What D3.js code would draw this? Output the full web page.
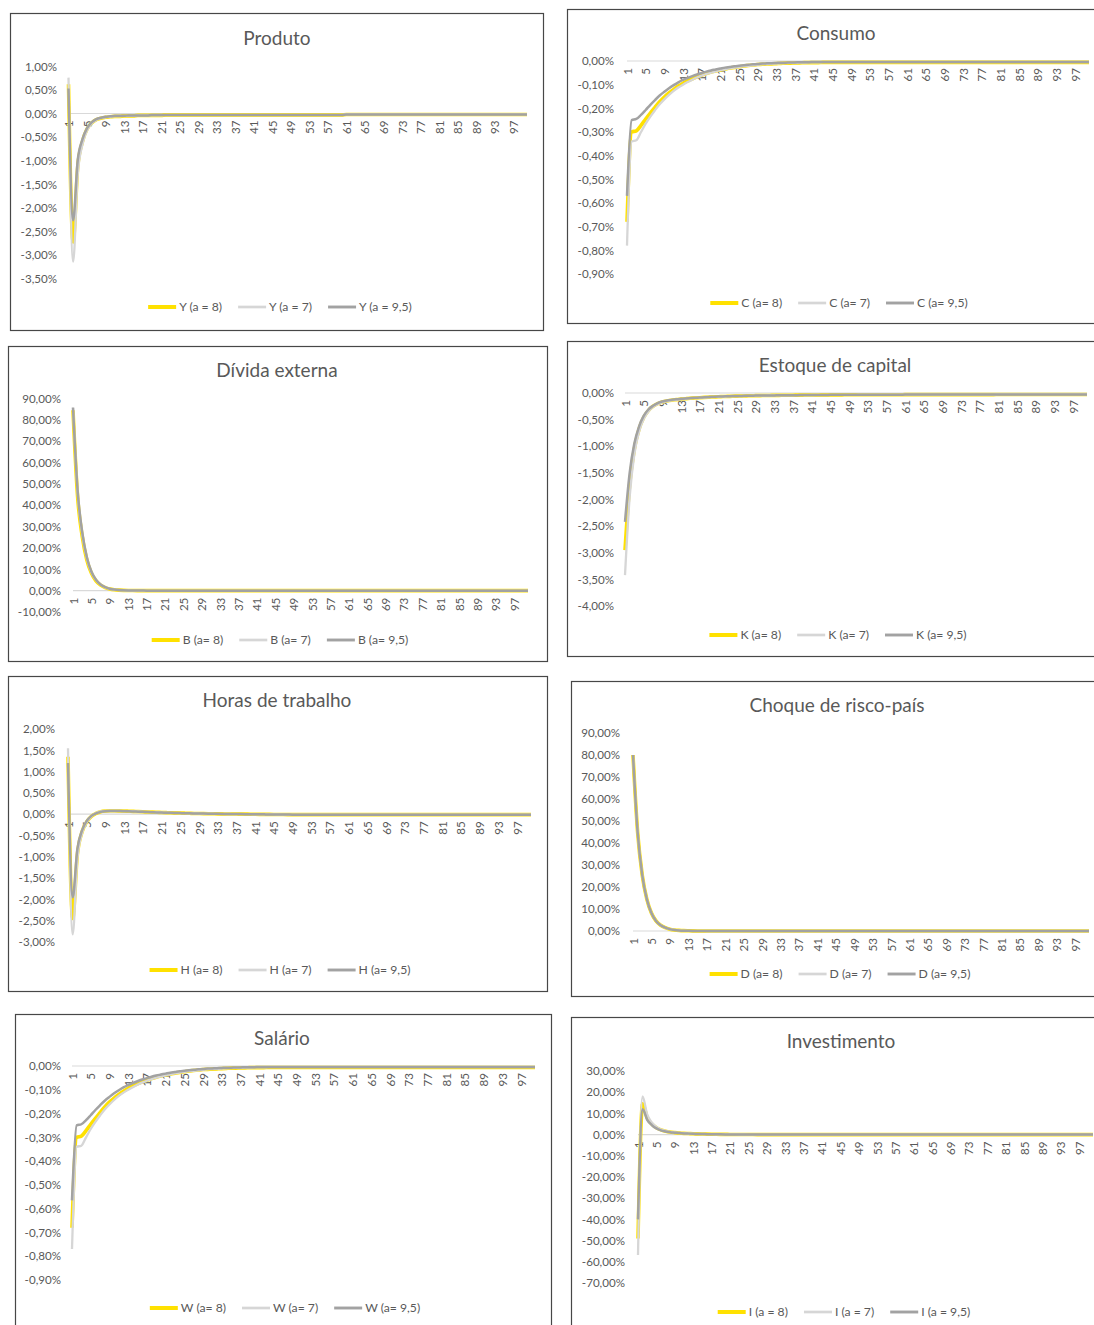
<!DOCTYPE html>
<html>
<head>
<meta charset="utf-8">
<script src="https://cdn.jsdelivr.net/npm/d3@7"></script>
<style>
  html, body { margin: 0; padding: 0; background: #ffffff; }
  svg { display: block; }
  text { font-family: Lato, "Open Sans", "Liberation Sans", sans-serif; }
</style>
</head>
<body>
<svg id="chart" width="1094" height="1325"></svg>
<script>
// Periods after the shock (1..100)
const periods = d3.range(1, 101);

// Calibrations shown in every panel
const calibrations = ["8", "7", "9,5"];

// ---- Produto (Y), % deviation ----
const prodA8 = [
0.62,-2.72,-1.12,-0.60,-0.33,-0.20,-0.13,-0.10,-0.08,-0.07,
-0.06,-0.06,-0.05,-0.05,-0.05,-0.04,-0.04,-0.04,-0.04,-0.04,
-0.04,-0.03,-0.03,-0.03,-0.03,-0.03,-0.03,-0.03,-0.03,-0.03,
-0.03,-0.03,-0.03,-0.03,-0.03,-0.03,-0.03,-0.03,-0.03,-0.03,
-0.03,-0.03,-0.03,-0.03,-0.03,-0.03,-0.03,-0.03,-0.03,-0.03,
-0.03,-0.03,-0.03,-0.03,-0.03,-0.03,-0.03,-0.03,-0.03,-0.03,
-0.02,-0.02,-0.02,-0.02,-0.02,-0.02,-0.02,-0.02,-0.02,-0.02,
-0.02,-0.02,-0.02,-0.02,-0.02,-0.02,-0.02,-0.02,-0.02,-0.02,
-0.02,-0.02,-0.02,-0.02,-0.02,-0.02,-0.02,-0.02,-0.02,-0.02,
-0.02,-0.02,-0.02,-0.02,-0.02,-0.02,-0.02,-0.02,-0.02,-0.02];
const prodA7 = [
0.76,-3.14,-1.28,-0.66,-0.36,-0.21,-0.14,-0.10,-0.08,-0.07,
-0.06,-0.06,-0.05,-0.05,-0.05,-0.04,-0.04,-0.04,-0.04,-0.04,
-0.04,-0.03,-0.03,-0.03,-0.03,-0.03,-0.03,-0.03,-0.03,-0.03,
-0.03,-0.03,-0.03,-0.03,-0.03,-0.03,-0.03,-0.03,-0.03,-0.03,
-0.03,-0.03,-0.03,-0.03,-0.03,-0.03,-0.03,-0.03,-0.03,-0.03,
-0.03,-0.03,-0.03,-0.03,-0.03,-0.03,-0.03,-0.03,-0.03,-0.03,
-0.02,-0.02,-0.02,-0.02,-0.02,-0.02,-0.02,-0.02,-0.02,-0.02,
-0.02,-0.02,-0.02,-0.02,-0.02,-0.02,-0.02,-0.02,-0.02,-0.02,
-0.02,-0.02,-0.02,-0.02,-0.02,-0.02,-0.02,-0.02,-0.02,-0.02,
-0.02,-0.02,-0.02,-0.02,-0.02,-0.02,-0.02,-0.02,-0.02,-0.02];
const prodA95 = [
0.53,-2.26,-0.98,-0.55,-0.31,-0.19,-0.12,-0.09,-0.07,-0.06,
-0.05,-0.05,-0.05,-0.04,-0.04,-0.04,-0.04,-0.04,-0.03,-0.03,
-0.03,-0.03,-0.03,-0.03,-0.03,-0.03,-0.03,-0.03,-0.03,-0.03,
-0.03,-0.03,-0.03,-0.03,-0.03,-0.03,-0.03,-0.03,-0.03,-0.03,
-0.03,-0.03,-0.03,-0.03,-0.03,-0.03,-0.03,-0.03,-0.03,-0.03,
-0.03,-0.03,-0.03,-0.03,-0.03,-0.03,-0.03,-0.03,-0.03,-0.03,
-0.02,-0.02,-0.02,-0.02,-0.02,-0.02,-0.02,-0.02,-0.02,-0.02,
-0.02,-0.02,-0.02,-0.02,-0.02,-0.02,-0.02,-0.02,-0.02,-0.02,
-0.02,-0.02,-0.02,-0.02,-0.02,-0.02,-0.02,-0.02,-0.02,-0.02,
-0.02,-0.02,-0.02,-0.02,-0.02,-0.02,-0.02,-0.02,-0.02,-0.02];

// ---- Consumo (C) ----
const consA8 = [
-0.68,-0.30,-0.295,-0.272,-0.245,-0.22,-0.196,-0.172,-0.152,-0.135,
-0.12,-0.106,-0.094,-0.084,-0.075,-0.067,-0.06,-0.053,-0.047,-0.042,
-0.038,-0.034,-0.03,-0.027,-0.024,-0.021,-0.019,-0.017,-0.015,-0.014,
-0.013,-0.012,-0.011,-0.01,-0.009,-0.009,-0.008,-0.008,-0.007,-0.007,
-0.007,-0.007,-0.006,-0.006,-0.006,-0.006,-0.006,-0.006,-0.006,-0.006,
-0.006,-0.006,-0.006,-0.006,-0.006,-0.006,-0.006,-0.006,-0.006,-0.006,
-0.006,-0.006,-0.006,-0.006,-0.006,-0.006,-0.006,-0.006,-0.006,-0.006,
-0.006,-0.006,-0.006,-0.006,-0.006,-0.006,-0.006,-0.006,-0.006,-0.006,
-0.006,-0.006,-0.006,-0.006,-0.006,-0.006,-0.006,-0.006,-0.006,-0.006,
-0.006,-0.006,-0.006,-0.006,-0.006,-0.006,-0.006,-0.006,-0.006,-0.006];
const consA7 = [
-0.78,-0.34,-0.335,-0.30,-0.265,-0.235,-0.208,-0.183,-0.162,-0.143,
-0.126,-0.112,-0.10,-0.089,-0.079,-0.07,-0.062,-0.055,-0.049,-0.044,
-0.039,-0.035,-0.031,-0.028,-0.025,-0.022,-0.02,-0.018,-0.016,-0.014,
-0.013,-0.012,-0.011,-0.01,-0.009,-0.008,-0.008,-0.007,-0.007,-0.006,
-0.006,-0.006,-0.005,-0.005,-0.005,-0.005,-0.005,-0.005,-0.005,-0.005,
-0.005,-0.005,-0.005,-0.005,-0.005,-0.005,-0.005,-0.005,-0.005,-0.005,
-0.005,-0.005,-0.005,-0.005,-0.005,-0.005,-0.005,-0.005,-0.005,-0.005,
-0.005,-0.005,-0.005,-0.005,-0.005,-0.005,-0.005,-0.005,-0.005,-0.005,
-0.005,-0.005,-0.005,-0.005,-0.005,-0.005,-0.005,-0.005,-0.005,-0.005,
-0.005,-0.005,-0.005,-0.005,-0.005,-0.005,-0.005,-0.005,-0.005,-0.005];
const consA95 = [
-0.57,-0.25,-0.245,-0.228,-0.207,-0.185,-0.165,-0.146,-0.13,-0.115,
-0.102,-0.09,-0.08,-0.072,-0.064,-0.057,-0.051,-0.045,-0.04,-0.036,
-0.032,-0.028,-0.025,-0.022,-0.02,-0.018,-0.016,-0.014,-0.013,-0.011,
-0.01,-0.009,-0.008,-0.007,-0.007,-0.006,-0.006,-0.005,-0.005,-0.005,
-0.004,-0.004,-0.004,-0.004,-0.004,-0.004,-0.004,-0.004,-0.004,-0.004,
-0.004,-0.004,-0.004,-0.004,-0.004,-0.004,-0.004,-0.004,-0.004,-0.004,
-0.004,-0.004,-0.004,-0.004,-0.004,-0.004,-0.004,-0.004,-0.004,-0.004,
-0.004,-0.004,-0.004,-0.004,-0.004,-0.004,-0.004,-0.004,-0.004,-0.004,
-0.004,-0.004,-0.004,-0.004,-0.004,-0.004,-0.004,-0.004,-0.004,-0.004,
-0.004,-0.004,-0.004,-0.004,-0.004,-0.004,-0.004,-0.004,-0.004,-0.004];

// ---- Dívida externa (B) ----
const divA8 = [
84.5,44,25.5,14.5,8.2,4.6,2.6,1.45,0.8,0.45,
0.25,0.14,0.08,0.05,0.03,0.02,0.01,0.01,0,0,
0,0,0,0,0,0,0,0,0,0, 0,0,0,0,0,0,0,0,0,0,
0,0,0,0,0,0,0,0,0,0, 0,0,0,0,0,0,0,0,0,0,
0,0,0,0,0,0,0,0,0,0, 0,0,0,0,0,0,0,0,0,0,
0,0,0,0,0,0,0,0,0,0, 0,0,0,0,0,0,0,0,0,0];
const divA7 = [
85.5,46,26.5,15.2,8.6,4.9,2.8,1.55,0.86,0.48,
0.27,0.15,0.08,0.05,0.03,0.02,0.01,0.01,0,0,
0,0,0,0,0,0,0,0,0,0, 0,0,0,0,0,0,0,0,0,0,
0,0,0,0,0,0,0,0,0,0, 0,0,0,0,0,0,0,0,0,0,
0,0,0,0,0,0,0,0,0,0, 0,0,0,0,0,0,0,0,0,0,
0,0,0,0,0,0,0,0,0,0, 0,0,0,0,0,0,0,0,0,0];
const divA95 = [
85.8,47,27.5,15.8,9.0,5.1,2.9,1.6,0.9,0.5,
0.28,0.16,0.09,0.05,0.03,0.02,0.01,0.01,0,0,
0,0,0,0,0,0,0,0,0,0, 0,0,0,0,0,0,0,0,0,0,
0,0,0,0,0,0,0,0,0,0, 0,0,0,0,0,0,0,0,0,0,
0,0,0,0,0,0,0,0,0,0, 0,0,0,0,0,0,0,0,0,0,
0,0,0,0,0,0,0,0,0,0, 0,0,0,0,0,0,0,0,0,0];

// ---- Estoque de capital (K) ----
const capA8 = [
-2.95,-1.72,-1.05,-0.68,-0.46,-0.33,-0.25,-0.20,-0.17,-0.15,
-0.135,-0.125,-0.115,-0.107,-0.10,-0.094,-0.088,-0.083,-0.078,-0.074,
-0.07,-0.067,-0.064,-0.061,-0.058,-0.056,-0.054,-0.052,-0.05,-0.049,
-0.047,-0.046,-0.045,-0.044,-0.043,-0.042,-0.041,-0.04,-0.039,-0.038,
-0.037,-0.037,-0.036,-0.036,-0.035,-0.035,-0.035,-0.034,-0.034,-0.034,
-0.033,-0.033,-0.033,-0.033,-0.033,-0.033,-0.033,-0.033,-0.033,-0.033,
-0.03,-0.03,-0.03,-0.03,-0.03,-0.03,-0.03,-0.03,-0.03,-0.03,
-0.03,-0.03,-0.03,-0.03,-0.03,-0.03,-0.03,-0.03,-0.03,-0.03,
-0.027,-0.027,-0.027,-0.027,-0.027,-0.027,-0.027,-0.027,-0.027,-0.027,
-0.027,-0.027,-0.027,-0.027,-0.027,-0.027,-0.027,-0.027,-0.027,-0.027];
const capA7 = [
-3.42,-1.95,-1.15,-0.73,-0.49,-0.35,-0.26,-0.21,-0.175,-0.155,
-0.14,-0.128,-0.118,-0.11,-0.102,-0.096,-0.09,-0.085,-0.08,-0.076,
-0.072,-0.068,-0.065,-0.062,-0.059,-0.057,-0.055,-0.053,-0.051,-0.05,
-0.048,-0.047,-0.046,-0.045,-0.044,-0.043,-0.042,-0.041,-0.04,-0.039,
-0.038,-0.037,-0.037,-0.036,-0.036,-0.035,-0.035,-0.035,-0.034,-0.034,
-0.033,-0.033,-0.033,-0.033,-0.033,-0.033,-0.033,-0.033,-0.033,-0.033,
-0.03,-0.03,-0.03,-0.03,-0.03,-0.03,-0.03,-0.03,-0.03,-0.03,
-0.03,-0.03,-0.03,-0.03,-0.03,-0.03,-0.03,-0.03,-0.03,-0.03,
-0.027,-0.027,-0.027,-0.027,-0.027,-0.027,-0.027,-0.027,-0.027,-0.027,
-0.027,-0.027,-0.027,-0.027,-0.027,-0.027,-0.027,-0.027,-0.027,-0.027];
const capA95 = [
-2.42,-1.50,-0.95,-0.63,-0.43,-0.31,-0.24,-0.19,-0.16,-0.14,
-0.128,-0.118,-0.11,-0.102,-0.096,-0.09,-0.085,-0.08,-0.075,-0.071,
-0.067,-0.064,-0.061,-0.058,-0.056,-0.054,-0.052,-0.05,-0.049,-0.048,
-0.047,-0.046,-0.045,-0.044,-0.043,-0.042,-0.041,-0.04,-0.039,-0.038,
-0.037,-0.037,-0.036,-0.036,-0.035,-0.035,-0.035,-0.034,-0.034,-0.034,
-0.033,-0.033,-0.033,-0.033,-0.033,-0.033,-0.033,-0.033,-0.033,-0.033,
-0.03,-0.03,-0.03,-0.03,-0.03,-0.03,-0.03,-0.03,-0.03,-0.03,
-0.03,-0.03,-0.03,-0.03,-0.03,-0.03,-0.03,-0.03,-0.03,-0.03,
-0.027,-0.027,-0.027,-0.027,-0.027,-0.027,-0.027,-0.027,-0.027,-0.027,
-0.027,-0.027,-0.027,-0.027,-0.027,-0.027,-0.027,-0.027,-0.027,-0.027];

// ---- Horas de trabalho (H) ----
const horA8 = [
1.35,-2.45,-0.95,-0.42,-0.18,-0.05,0.02,0.06,0.075,0.08,
0.08,0.078,0.075,0.071,0.067,0.062,0.058,0.053,0.049,0.045,
0.041,0.037,0.033,0.03,0.027,0.024,0.021,0.018,0.016,0.014,
0.012,0.01,0.008,0.007,0.005,0.004,0.003,0.002,0.001,0,
-0.002,-0.003,-0.004,-0.005,-0.006,-0.007,-0.008,-0.009,-0.01,-0.01,
-0.01,-0.01,-0.01,-0.01,-0.01,-0.01,-0.01,-0.01,-0.01,-0.01,
-0.01,-0.01,-0.01,-0.01,-0.01,-0.01,-0.01,-0.01,-0.01,-0.01,
-0.01,-0.01,-0.01,-0.01,-0.01,-0.01,-0.01,-0.01,-0.01,-0.01,
-0.01,-0.01,-0.01,-0.01,-0.01,-0.01,-0.01,-0.01,-0.01,-0.01,
-0.01,-0.01,-0.01,-0.01,-0.01,-0.01,-0.01,-0.01,-0.01,-0.01];
const horA7 = [
1.55,-2.82,-1.05,-0.45,-0.19,-0.05,0.025,0.065,0.08,0.085,
0.084,0.082,0.078,0.074,0.07,0.065,0.06,0.055,0.05,0.046,
0.041,0.037,0.033,0.03,0.027,0.024,0.021,0.018,0.016,0.014,
0.012,0.01,0.008,0.007,0.005,0.004,0.003,0.002,0.001,0,
-0.002,-0.003,-0.004,-0.005,-0.006,-0.007,-0.008,-0.009,-0.01,-0.01,
-0.01,-0.01,-0.01,-0.01,-0.01,-0.01,-0.01,-0.01,-0.01,-0.01,
-0.01,-0.01,-0.01,-0.01,-0.01,-0.01,-0.01,-0.01,-0.01,-0.01,
-0.01,-0.01,-0.01,-0.01,-0.01,-0.01,-0.01,-0.01,-0.01,-0.01,
-0.01,-0.01,-0.01,-0.01,-0.01,-0.01,-0.01,-0.01,-0.01,-0.01,
-0.01,-0.01,-0.01,-0.01,-0.01,-0.01,-0.01,-0.01,-0.01,-0.01];
const horA95 = [
1.20,-1.95,-0.82,-0.38,-0.16,-0.04,0.02,0.055,0.07,0.075,
0.075,0.073,0.07,0.067,0.063,0.059,0.055,0.05,0.046,0.042,
0.039,0.035,0.032,0.029,0.026,0.023,0.02,0.018,0.016,0.014,
0.012,0.01,0.008,0.007,0.005,0.004,0.003,0.002,0.001,0,
-0.002,-0.003,-0.004,-0.005,-0.006,-0.007,-0.008,-0.009,-0.01,-0.01,
-0.01,-0.01,-0.01,-0.01,-0.01,-0.01,-0.01,-0.01,-0.01,-0.01,
-0.01,-0.01,-0.01,-0.01,-0.01,-0.01,-0.01,-0.01,-0.01,-0.01,
-0.01,-0.01,-0.01,-0.01,-0.01,-0.01,-0.01,-0.01,-0.01,-0.01,
-0.01,-0.01,-0.01,-0.01,-0.01,-0.01,-0.01,-0.01,-0.01,-0.01,
-0.01,-0.01,-0.01,-0.01,-0.01,-0.01,-0.01,-0.01,-0.01,-0.01];

// ---- Choque de risco-país (D): same shock in every calibration ----
const chqA8 = [
80,45,25.5,14.5,8.2,4.6,2.6,1.5,0.85,0.48,
0.27,0.15,0.09,0.05,0.03,0.02,0.01,0.01,0,0,
0,0,0,0,0,0,0,0,0,0, 0,0,0,0,0,0,0,0,0,0,
0,0,0,0,0,0,0,0,0,0, 0,0,0,0,0,0,0,0,0,0,
0,0,0,0,0,0,0,0,0,0, 0,0,0,0,0,0,0,0,0,0,
0,0,0,0,0,0,0,0,0,0, 0,0,0,0,0,0,0,0,0,0];
const chqA7 = [
80,45,25.5,14.5,8.2,4.6,2.6,1.5,0.85,0.48,
0.27,0.15,0.09,0.05,0.03,0.02,0.01,0.01,0,0,
0,0,0,0,0,0,0,0,0,0, 0,0,0,0,0,0,0,0,0,0,
0,0,0,0,0,0,0,0,0,0, 0,0,0,0,0,0,0,0,0,0,
0,0,0,0,0,0,0,0,0,0, 0,0,0,0,0,0,0,0,0,0,
0,0,0,0,0,0,0,0,0,0, 0,0,0,0,0,0,0,0,0,0];
const chqA95 = [
80,45,25.5,14.5,8.2,4.6,2.6,1.5,0.85,0.48,
0.27,0.15,0.09,0.05,0.03,0.02,0.01,0.01,0,0,
0,0,0,0,0,0,0,0,0,0, 0,0,0,0,0,0,0,0,0,0,
0,0,0,0,0,0,0,0,0,0, 0,0,0,0,0,0,0,0,0,0,
0,0,0,0,0,0,0,0,0,0, 0,0,0,0,0,0,0,0,0,0,
0,0,0,0,0,0,0,0,0,0, 0,0,0,0,0,0,0,0,0,0];

// ---- Salário (W) ----
const salA8 = [
-0.68,-0.30,-0.295,-0.272,-0.245,-0.22,-0.196,-0.172,-0.152,-0.135,
-0.12,-0.106,-0.094,-0.084,-0.075,-0.067,-0.06,-0.053,-0.047,-0.042,
-0.038,-0.034,-0.03,-0.027,-0.024,-0.021,-0.019,-0.017,-0.015,-0.014,
-0.013,-0.012,-0.011,-0.01,-0.009,-0.009,-0.008,-0.008,-0.007,-0.007,
-0.007,-0.007,-0.006,-0.006,-0.006,-0.006,-0.006,-0.006,-0.006,-0.006,
-0.006,-0.006,-0.006,-0.006,-0.006,-0.006,-0.006,-0.006,-0.006,-0.006,
-0.006,-0.006,-0.006,-0.006,-0.006,-0.006,-0.006,-0.006,-0.006,-0.006,
-0.006,-0.006,-0.006,-0.006,-0.006,-0.006,-0.006,-0.006,-0.006,-0.006,
-0.006,-0.006,-0.006,-0.006,-0.006,-0.006,-0.006,-0.006,-0.006,-0.006,
-0.006,-0.006,-0.006,-0.006,-0.006,-0.006,-0.006,-0.006,-0.006,-0.006];
const salA7 = [
-0.77,-0.34,-0.335,-0.30,-0.265,-0.235,-0.208,-0.183,-0.162,-0.143,
-0.126,-0.112,-0.10,-0.089,-0.079,-0.07,-0.062,-0.055,-0.049,-0.044,
-0.039,-0.035,-0.031,-0.028,-0.025,-0.022,-0.02,-0.018,-0.016,-0.014,
-0.013,-0.012,-0.011,-0.01,-0.009,-0.008,-0.008,-0.007,-0.007,-0.006,
-0.006,-0.006,-0.005,-0.005,-0.005,-0.005,-0.005,-0.005,-0.005,-0.005,
-0.005,-0.005,-0.005,-0.005,-0.005,-0.005,-0.005,-0.005,-0.005,-0.005,
-0.005,-0.005,-0.005,-0.005,-0.005,-0.005,-0.005,-0.005,-0.005,-0.005,
-0.005,-0.005,-0.005,-0.005,-0.005,-0.005,-0.005,-0.005,-0.005,-0.005,
-0.005,-0.005,-0.005,-0.005,-0.005,-0.005,-0.005,-0.005,-0.005,-0.005,
-0.005,-0.005,-0.005,-0.005,-0.005,-0.005,-0.005,-0.005,-0.005,-0.005];
const salA95 = [
-0.565,-0.25,-0.245,-0.228,-0.207,-0.185,-0.165,-0.146,-0.13,-0.115,
-0.102,-0.09,-0.08,-0.072,-0.064,-0.057,-0.051,-0.045,-0.04,-0.036,
-0.032,-0.028,-0.025,-0.022,-0.02,-0.018,-0.016,-0.014,-0.013,-0.011,
-0.01,-0.009,-0.008,-0.007,-0.007,-0.006,-0.006,-0.005,-0.005,-0.005,
-0.004,-0.004,-0.004,-0.004,-0.004,-0.004,-0.004,-0.004,-0.004,-0.004,
-0.004,-0.004,-0.004,-0.004,-0.004,-0.004,-0.004,-0.004,-0.004,-0.004,
-0.004,-0.004,-0.004,-0.004,-0.004,-0.004,-0.004,-0.004,-0.004,-0.004,
-0.004,-0.004,-0.004,-0.004,-0.004,-0.004,-0.004,-0.004,-0.004,-0.004,
-0.004,-0.004,-0.004,-0.004,-0.004,-0.004,-0.004,-0.004,-0.004,-0.004,
-0.004,-0.004,-0.004,-0.004,-0.004,-0.004,-0.004,-0.004,-0.004,-0.004];

// ---- Investimento (I) ----
const invA8 = [
-49,14.5,8.0,5.0,3.2,2.2,1.6,1.2,0.95,0.75,
0.6,0.5,0.4,0.33,0.27,0.22,0.18,0.15,0.12,0.1,
0.08,0.065,0.05,0.04,0.03,0.02,0.01,0,0,0,
0,0,0,0,0,0,0,0,0,0, 0,0,0,0,0,0,0,0,0,0,
0,0,0,0,0,0,0,0,0,0, 0,0,0,0,0,0,0,0,0,0,
0,0,0,0,0,0,0,0,0,0, 0,0,0,0,0,0,0,0,0,0,
0,0,0,0,0,0,0,0,0,0];
const invA7 = [
-56.8,18,9.5,5.7,3.6,2.4,1.75,1.3,1.0,0.8,
0.65,0.52,0.42,0.34,0.28,0.23,0.19,0.15,0.12,0.1,
0.08,0.065,0.05,0.04,0.03,0.02,0.01,0,0,0,
0,0,0,0,0,0,0,0,0,0, 0,0,0,0,0,0,0,0,0,0,
0,0,0,0,0,0,0,0,0,0, 0,0,0,0,0,0,0,0,0,0,
0,0,0,0,0,0,0,0,0,0, 0,0,0,0,0,0,0,0,0,0,
0,0,0,0,0,0,0,0,0,0];
const invA95 = [
-40,12,7.0,4.5,2.9,2.0,1.5,1.1,0.9,0.7,
0.56,0.46,0.38,0.31,0.25,0.21,0.17,0.14,0.11,0.09,
0.07,0.06,0.05,0.04,0.03,0.02,0.01,0,0,0,
0,0,0,0,0,0,0,0,0,0, 0,0,0,0,0,0,0,0,0,0,
0,0,0,0,0,0,0,0,0,0, 0,0,0,0,0,0,0,0,0,0,
0,0,0,0,0,0,0,0,0,0, 0,0,0,0,0,0,0,0,0,0,
0,0,0,0,0,0,0,0,0,0];

// Y-axis tick values (percent)
const ticksProduto = [1, 0.5, 0, -0.5, -1, -1.5, -2, -2.5, -3, -3.5];
const ticksConsumo = [0, -0.1, -0.2, -0.3, -0.4, -0.5, -0.6, -0.7, -0.8, -0.9];
const ticksDivida = [90, 80, 70, 60, 50, 40, 30, 20, 10, 0, -10];
const ticksCapital = [0, -0.5, -1, -1.5, -2, -2.5, -3, -3.5, -4];
const ticksHoras = [2, 1.5, 1, 0.5, 0, -0.5, -1, -1.5, -2, -2.5, -3];
const ticksChoque = [90, 80, 70, 60, 50, 40, 30, 20, 10, 0];
const ticksSalario = [0, -0.1, -0.2, -0.3, -0.4, -0.5, -0.6, -0.7, -0.8, -0.9];
const ticksInvest = [30, 20, 10, 0, -10, -20, -30, -40, -50, -60, -70];

// X-axis labels: every fourth period
const xLabels = periods.filter(p => (p - 1) % 4 === 0);

// Series styling: a = 8, a = 7, a = 9,5 (drawn in this order)
const seriesStyle = [
  { color: "#FFE100", width: 3.6 },
  { color: "#D6D6D6", width: 2.3 },
  { color: "#A2A2A2", width: 2.5 }
];

// Panel layout
const panels = [
  { title: "Produto", sym: "Y", eq: "a = ", data: [prodA8, prodA7, prodA95], ticks: ticksProduto,
    box: [10, 13, 543, 330], titleX: 277, titleY: 38, yPix: [66.3, 278.7], labelX: 57, xPix: [68.5, 527], legendY: 307 },
  { title: "Consumo", sym: "C", eq: "a= ", data: [consA8, consA7, consA95], ticks: ticksConsumo,
    box: [567, 9, 1106, 323], titleX: 836, titleY: 33, yPix: [61, 274], labelX: 614, xPix: [627, 1089], legendY: 303 },
  { title: "Dívida externa", sym: "B", eq: "a= ", data: [divA8, divA7, divA95], ticks: ticksDivida,
    box: [8, 346, 547, 661], titleX: 277, titleY: 370, yPix: [398.5, 612], labelX: 61, xPix: [73, 528], legendY: 640 },
  { title: "Estoque de capital", sym: "K", eq: "a= ", data: [capA8, capA7, capA95], ticks: ticksCapital,
    box: [567, 341, 1104, 656], titleX: 835, titleY: 365, yPix: [393, 606], labelX: 614, xPix: [625, 1087], legendY: 635 },
  { title: "Horas de trabalho", sym: "H", eq: "a= ", data: [horA8, horA7, horA95], ticks: ticksHoras,
    box: [8, 676, 547, 991], titleX: 277, titleY: 700, yPix: [729, 942], labelX: 55, xPix: [68, 531], legendY: 970 },
  { title: "Choque de risco-país", sym: "D", eq: "a= ", data: [chqA8, chqA7, chqA95], ticks: ticksChoque,
    box: [571, 681, 1104, 996], titleX: 837, titleY: 705, yPix: [733, 931], labelX: 620, xPix: [633, 1089], legendY: 974 },
  { title: "Salário", sym: "W", eq: "a= ", data: [salA8, salA7, salA95], ticks: ticksSalario,
    box: [15, 1014, 551, 1340], titleX: 282, titleY: 1038, yPix: [1066, 1280], labelX: 61, xPix: [72, 535], legendY: 1308 },
  { title: "Investimento", sym: "I", eq: "a = ", data: [invA8, invA7, invA95], ticks: ticksInvest,
    box: [571, 1017, 1110, 1340], titleX: 841, titleY: 1041, yPix: [1071, 1283], labelX: 625, xPix: [638, 1093], legendY: 1312 }
];

const fmtPct = v => (Math.abs(v) < 1e-9 ? 0 : v).toFixed(2).replace(".", ",") + "%";
const textColor = "#595959";
const fontStack = "Lato, 'Open Sans', sans-serif";

const svg = d3.select("#chart");
svg.append("rect").attr("width", 1094).attr("height", 1325).attr("fill", "#fff");

panels.forEach(p => {
  const g = svg.append("g");
  const [bx0, by0, bx1, by1] = p.box;

  g.append("rect")
    .attr("x", bx0 + 0.5).attr("y", by0 + 0.5)
    .attr("width", bx1 - bx0).attr("height", by1 - by0)
    .attr("fill", "#fff").attr("stroke", "#474747").attr("stroke-width", 1.2);

  g.append("text")
    .attr("x", p.titleX).attr("y", p.titleY + 6.5)
    .attr("text-anchor", "middle")
    .attr("font-size", 19).attr("fill", textColor)
    .text(p.title);

  const tTop = d3.max(p.ticks), tBot = d3.min(p.ticks);
  const y = d3.scaleLinear().domain([tBot, tTop]).range([p.yPix[1], p.yPix[0]]);
  const x = d3.scalePoint().domain(periods).range(p.xPix);

  // Y axis: labels only
  const yAxis = d3.axisLeft(y).tickValues(p.ticks).tickFormat(fmtPct).tickSize(0).tickPadding(0);
  const ya = g.append("g").attr("transform", `translate(${p.labelX},0)`).call(yAxis);
  ya.select(".domain").remove();
  ya.selectAll("text").attr("font-size", 11.6).attr("fill", textColor)
    .attr("font-family", fontStack);

  // Horizontal axis line at zero with rotated category labels
  const y0 = y(0);
  const xAxis = d3.axisBottom(x).tickValues(xLabels).tickSize(0).tickPadding(0);
  const xa = g.append("g").attr("transform", `translate(0,${y0})`).call(xAxis);
  xa.select(".domain").attr("stroke", "#D9D9D9").attr("stroke-width", 1.2)
    .attr("d", `M${p.xPix[0]},0H${p.xPix[1]}`);
  xa.selectAll("text")
    .attr("font-size", 11.6).attr("fill", textColor)
    .attr("font-family", fontStack)
    .attr("text-anchor", "end")
    .attr("transform", "translate(0,7) rotate(-90)")
    .attr("x", 0).attr("y", 0).attr("dy", "0.35em");

  // Series lines
  const line = d3.line()
    .x((d, i) => x(periods[i]))
    .y(d => y(d))
    .curve(d3.curveMonotoneX);
  p.data.forEach((arr, k) => {
    g.append("path")
      .datum(arr)
      .attr("d", line)
      .attr("fill", "none")
      .attr("stroke", seriesStyle[k].color)
      .attr("stroke-width", seriesStyle[k].width)
      .attr("stroke-linejoin", "round")
      .attr("stroke-linecap", "butt");
  });

  // Legend, centred under the plot
  const lg = g.append("g");
  let cx = 0;
  calibrations.forEach((c, k) => {
    const it = lg.append("g").attr("transform", `translate(${cx},0)`);
    it.append("line").attr("x1", 0).attr("x2", 28).attr("y1", 0).attr("y2", 0)
      .attr("stroke", seriesStyle[k].color).attr("stroke-width", seriesStyle[k].width + 0.4);
    const t = it.append("text").attr("x", 31).attr("y", 4.2)
      .attr("font-size", 12.2).attr("fill", textColor)
      .text(`${p.sym} (${p.eq}${c})`);
    cx += 31 + t.node().getComputedTextLength() + 16;
  });
  const totalW = cx - 16;
  lg.attr("transform", `translate(${p.titleX + 3 - totalW / 2},${p.legendY})`);
});
</script>
</body>
</html>
